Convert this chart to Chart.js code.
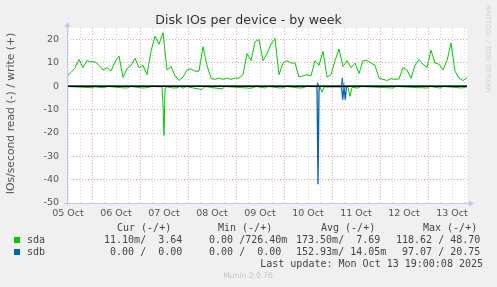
<!DOCTYPE html>
<html>
<head>
<meta charset="utf-8">
<script src="https://cdn.jsdelivr.net/npm/chart.js@4.4.1/dist/chart.umd.min.js"></script>
<style>
html,body{margin:0;padding:0;background:#f0f0f0;}
canvas{display:block;}
</style>
</head>
<body>
<canvas id="grafico" width="497" height="287"></canvas>
<script>
// horas contadas desde 05 Oct 00:00
var horaInicio = 11.5;
var horaFin = 211.5;
var pasoWrite = 2;
var dias = ["05 Oct","06 Oct","07 Oct","08 Oct","09 Oct","10 Oct","11 Oct","12 Oct","13 Oct"];

// sda write (+), una muestra cada 2 horas
var sdaWrite = [4.3, 6, 7.9, 11.5, 8, 11, 10.5, 10.5, 9, 7,
  8, 6.5, 10.5, 13, 3.8, 7.5, 9, 12, 8, 9,
  5, 15, 21.5, 18, 23, 7, 8.5, 4.5, 2.5, 4,
  7, 7.5, 6.5, 6.5, 17, 9, 3.5, 3, 3.5, 3,
  3.5, 3, 3.5, 3.5, 5, 14, 11, 19, 20, 11,
  14, 18, 20.5, 5, 10, 11, 10, 10, 4, 4.5,
  5, 4.5, 11, 9, 15, 4, 5, 11, 16, 8.5,
  11, 8, 10, 5.5, 11, 11, 10, 9, 3.5, 3,
  2.5, 3.3, 3, 3.2, 8, 7, 3.5, 9, 11.5, 9.5,
  8, 15.5, 10, 9.5, 7, 11, 18.5, 6.5, 3.5, 2.5,
  3.6];

// sda read (-)
var sdaReadHoras = [11.5, 22, 24, 25.5, 29.5, 32, 39, 41.5, 43.5, 49.5,
  52, 54, 59, 59.5, 60, 60.5, 61, 64.5, 66.5, 68,
  69.5, 71, 79, 80.5, 89, 90.5, 101.5, 103, 104.5, 106,
  110.5, 112, 118, 119.5, 121, 128, 129.5, 131, 138, 139,
  140, 152, 153, 154, 157, 158.5, 174.5, 176, 191.5, 193,
  198, 199.5, 209, 211.5];
var sdaRead = [-0.1, -0.5, -0.6, -0.2, -0.6, -0.1, -0.6, -0.7, -0.1, -0.7,
  -0.5, -0.1, -0.2, -8, -21, -1.5, -0.2, -0.7, -0.6, -0.1,
  -0.8, -0.1, -1.4, -0.1, -1.1, -0.1, -0.7, -0.8, -0.6, -0.1,
  -0.7, -0.1, -0.7, -0.6, -0.1, -0.7, -0.6, -0.1, -0.2, -2.5,
  -0.3, -0.3, -4.3, -0.4, -0.7, -0.1, -0.7, -0.1, -0.7, -0.1,
  -0.7, -0.1, -0.7, -0.2];

// sdb read (-) / write (+)
var sdbReadHoras = [11.5, 136.5, 137, 137.5, 138, 148.75, 149.35, 150, 150.65, 151.25, 211.5];
var sdbRead = [0, 0, -42, -1.5, 0, 0, -5.7, -0.5, -5.7, 0, 0];
var sdbWriteHoras = [11.5, 136.4, 136.85, 137.3, 148.7, 149.15, 149.6, 211.5];
var sdbWrite = [0, 0, 1.5, 0, 0, 3.6, 0, 0];

// tabla de la leyenda: [read, write]
var cabeceras = ["Cur (-/+)", "Min (-/+)", "Avg (-/+)", "Max (-/+)"];
var dispositivos = ["sda", "sdb"];
var colores = ["#00cc00", "#0066b3"];
var sdaCur = [0.0111, 3.64], sdaMin = [0, 0.7264], sdaAvg = [0.1735, 7.69], sdaMax = [118.62, 48.70];
var sdbCur = [0, 0], sdbMin = [0, 0], sdbAvg = [0.15293, 0.01405], sdbMax = [97.07, 20.75];
var ultimaActualizacion = "Last update: Mon Oct 13 19:00:08 2025";

function puntos(horas, valores){
  return valores.map(function(v, i){ return {x: horas[i], y: v}; });
}
var horasWrite = sdaWrite.map(function(v, i){ return horaInicio + i * pasoWrite; });

function fmt(v){
  if (v !== 0 && Math.abs(v) < 1) return (v * 1000).toFixed(2).padStart(6) + "m";
  return v.toFixed(2).padStart(6) + " ";
}
function celda(par){ return fmt(par[0]) + "/" + fmt(par[1]); }

var SANS = "'DejaVu Sans', sans-serif";
var MONO = "'DejaVu Sans Mono', monospace";

var fondo = {
  id: "fondo",
  beforeDraw: function(chart){
    var c = chart.ctx, a = chart.chartArea;
    c.save();
    c.fillStyle = "#f0f0f0";
    c.fillRect(0, 0, chart.width, chart.height);
    c.fillStyle = "#ffffff";
    c.fillRect(a.left, a.top, a.right - a.left, a.bottom - a.top);
    c.restore();
  },
  afterDatasetsDraw: function(chart){
    var c = chart.ctx, a = chart.chartArea;
    var y0 = chart.scales.y.getPixelForValue(0);
    c.save();
    c.strokeStyle = "#000000";
    c.lineWidth = 1.5;
    c.beginPath();
    c.moveTo(a.left, y0);
    c.lineTo(a.right, y0);
    c.stroke();
    c.restore();
  },
  afterDraw: function(chart){
    var c = chart.ctx, a = chart.chartArea;
    c.save();
    // ejes con flecha
    c.strokeStyle = "#c4c4f0";
    c.fillStyle = "#c4c4f0";
    c.lineWidth = 1;
    c.beginPath();
    c.moveTo(a.left - 3, a.bottom + 0.5);
    c.lineTo(a.right + 2, a.bottom + 0.5);
    c.moveTo(a.left + 0.5, a.bottom + 3);
    c.lineTo(a.left + 0.5, a.top - 2);
    c.stroke();
    c.beginPath();
    c.moveTo(a.right + 2, a.bottom - 2.5);
    c.lineTo(a.right + 7, a.bottom + 0.5);
    c.lineTo(a.right + 2, a.bottom + 3.5);
    c.fill();
    c.beginPath();
    c.moveTo(a.left - 2.5, a.top - 1);
    c.lineTo(a.left + 0.5, a.top - 6);
    c.lineTo(a.left + 3.5, a.top - 1);
    c.fill();

    // titulo
    c.fillStyle = "#333333";
    c.font = "12.6px " + SANS;
    c.textAlign = "center";
    c.textBaseline = "alphabetic";
    c.fillText("Disk IOs per device - by week", 248.5, 24);

    // titulo eje y
    c.save();
    c.translate(11, 113.5);
    c.rotate(-Math.PI / 2);
    c.fillStyle = "#555555";
    c.font = "10.8px " + SANS;
    c.textBaseline = "middle";
    c.fillText("IOs/second read (-) / write (+)", 0, 0);
    c.restore();

    // marca rrdtool
    c.save();
    c.translate(487.5, 5);
    c.rotate(Math.PI / 2);
    c.fillStyle = "#d0d0d0";
    c.font = "6.8px " + SANS;
    c.textAlign = "left";
    c.textBaseline = "middle";
    c.fillText("RRDTOOL / TOBI OETIKER", 0, 0);
    c.restore();

    // leyenda
    var colX = [98, 197, 296, 396];
    var cabX = [117, 218, 321, 423];
    c.fillStyle = "#444444";
    c.font = "10px " + MONO;
    c.textAlign = "left";
    c.textBaseline = "middle";
    cabeceras.forEach(function(t, i){ c.fillText(t, cabX[i], 228); });
    var filas = [[sdaCur, sdaMin, sdaAvg, sdaMax], [sdbCur, sdbMin, sdbAvg, sdbMax]];
    dispositivos.forEach(function(d, r){
      var y = 240 + r * 12;
      c.fillStyle = colores[r];
      c.fillRect(14, y - 3, 6, 6);
      c.fillStyle = "#444444";
      c.fillText(d, 27, y);
      filas[r].forEach(function(par, k){ c.fillText(celda(par), colX[k], y); });
    });
    c.textAlign = "right";
    c.fillText(ultimaActualizacion, 483, 264);
    c.textAlign = "center";
    c.fillStyle = "#c4c4c4";
    c.font = "7.6px " + SANS;
    c.fillText("Munin 2.0.76", 248, 276);
    c.restore();
  }
};

var menor = "#d2d2d2", mayor = "#e6a4a4";

new Chart(document.getElementById("grafico"), {
  type: "line",
  data: {
    datasets: [
      {label: "sdb write", data: puntos(sdbWriteHoras, sdbWrite), borderColor: colores[1], borderWidth: 1},
      {label: "sdb read", data: puntos(sdbReadHoras, sdbRead), borderColor: colores[1], borderWidth: 1.3},
      {label: "sda write", data: puntos(horasWrite, sdaWrite), borderColor: colores[0], borderWidth: 1},
      {label: "sda read", data: puntos(sdaReadHoras, sdaRead), borderColor: colores[0], borderWidth: 1}
    ]
  },
  options: {
    responsive: false,
    animation: false,
    devicePixelRatio: 1,
    elements: {point: {radius: 0}, line: {tension: 0}},
    layout: {padding: {top: 28, right: 30, left: 0, bottom: 0}},
    plugins: {legend: {display: false}, tooltip: {enabled: false}, title: {display: false}},
    scales: {
      x: {
        type: "linear",
        min: horaInicio,
        max: horaFin,
        afterFit: function(s){ s.height = 84; },
        afterBuildTicks: function(s){
          var t = [];
          for (var h = 12; h <= horaFin; h += 6) t.push({value: h});
          s.ticks = t;
        },
        ticks: {
          autoSkip: false, maxRotation: 0, padding: 5,
          color: "#555555", font: {family: SANS, size: 9.5},
          callback: function(v){ return v % 24 === 12 ? dias[(v - 12) / 24] : ""; }
        },
        grid: {
          drawTicks: false, lineWidth: 1,
          color: function(ctx){ return ctx.tick && ctx.tick.value % 24 === 0 ? mayor : menor; }
        },
        border: {display: false, dash: [1, 2]}
      },
      y: {
        min: -50,
        max: 25,
        afterFit: function(s){ s.width = 67; },
        ticks: {
          stepSize: 5, padding: 8,
          color: "#555555", font: {family: SANS, size: 9.5},
          callback: function(v){ return v % 10 === 0 ? String(v) : ""; }
        },
        grid: {
          drawTicks: false, lineWidth: 1,
          color: function(ctx){ return ctx.tick && ctx.tick.value % 10 === 0 ? mayor : menor; }
        },
        border: {display: false, dash: [1, 2]}
      }
    }
  },
  plugins: [fondo]
});
</script>
</body>
</html>
